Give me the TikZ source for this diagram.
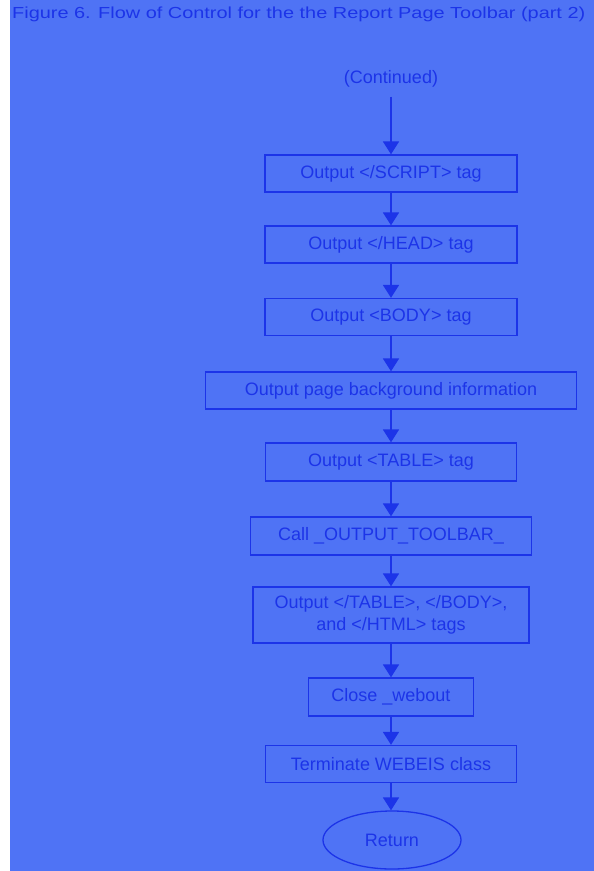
\documentclass[tikz,border=0pt]{standalone}
\usepackage{fontspec}
\setmainfont{Liberation Sans}
\usetikzlibrary{arrows.meta,shapes.geometric}
\definecolor{pagebg}{HTML}{4F73F5}
\definecolor{ink}{HTML}{1C34E8}
\begin{document}
\begin{tikzpicture}[x=1pt,y=-1pt,
  every node/.style={text=ink,font=\fontsize{18}{21}\selectfont},
  stepbox/.style={draw=ink,line width=1.3pt,rectangle,minimum width=#1,minimum height=37pt,inner sep=0pt,align=center},
  endbox/.style={draw=ink,line width=1.3pt,ellipse,minimum width=138pt,minimum height=58pt,inner sep=0pt},
  flow/.style={draw=ink,line width=1.8pt,-{Triangle[width=16pt,length=13pt]}}]
  \useasboundingbox (0,0) rectangle (594,871);
  \fill[white] (0,0) rectangle (594,871);
  \fill[pagebg] (10,0) rectangle (594,871);
  \node[anchor=base west,inner sep=0pt,font=\fontsize{16}{19}\selectfont] (title) at (12,18)
    {\scalebox{1.245}[1]{Figure 6. Flow of Control for the the Report Page Toolbar (part 2)}};

  \node[inner xsep=2pt,inner ysep=9pt] (cont) at (391,79) {(Continued)};
  \node[stepbox=252pt] (b1) at (391,173.5) {Output </SCRIPT> tag};
  \node[stepbox=252pt] (b2) at (391,244.5) {Output </HEAD> tag};
  \node[stepbox=252pt] (b3) at (391,317) {Output <BODY> tag};
  \node[stepbox=371pt] (b4) at (391,390.5) {Output page background information};
  \node[stepbox=251pt,minimum height=38pt] (b5) at (391,462) {Output <TABLE> tag};
  \node[stepbox=281pt,minimum height=38pt] (b6) at (391,536) {Call \_OUTPUT\_TOOLBAR\_};
  \node[stepbox=276pt,minimum height=56pt,font=\fontsize{18}{22}\selectfont] (b7) at (391,615)
    {Output </TABLE>, </BODY>,\\ and </HTML> tags};
  \node[stepbox=165pt,minimum height=38pt] (b8) at (391,697) {Close \_webout};
  \node[stepbox=251pt] (b9) at (391,764) {Terminate WEBEIS class};
  \node[endbox] (ret) at (392,840) {Return};

  \draw[flow] (cont.south) -- (b1.north);
  \draw[flow] (b1) -- (b2);
  \draw[flow] (b2) -- (b3);
  \draw[flow] (b3) -- (b4);
  \draw[flow] (b4) -- (b5);
  \draw[flow] (b5) -- (b6);
  \draw[flow] (b6) -- (b7);
  \draw[flow] (b7) -- (b8);
  \draw[flow] (b8) -- (b9);
  \draw[flow] (b9.south) -- (b9.south |- ret.north);
\end{tikzpicture}
\end{document}
